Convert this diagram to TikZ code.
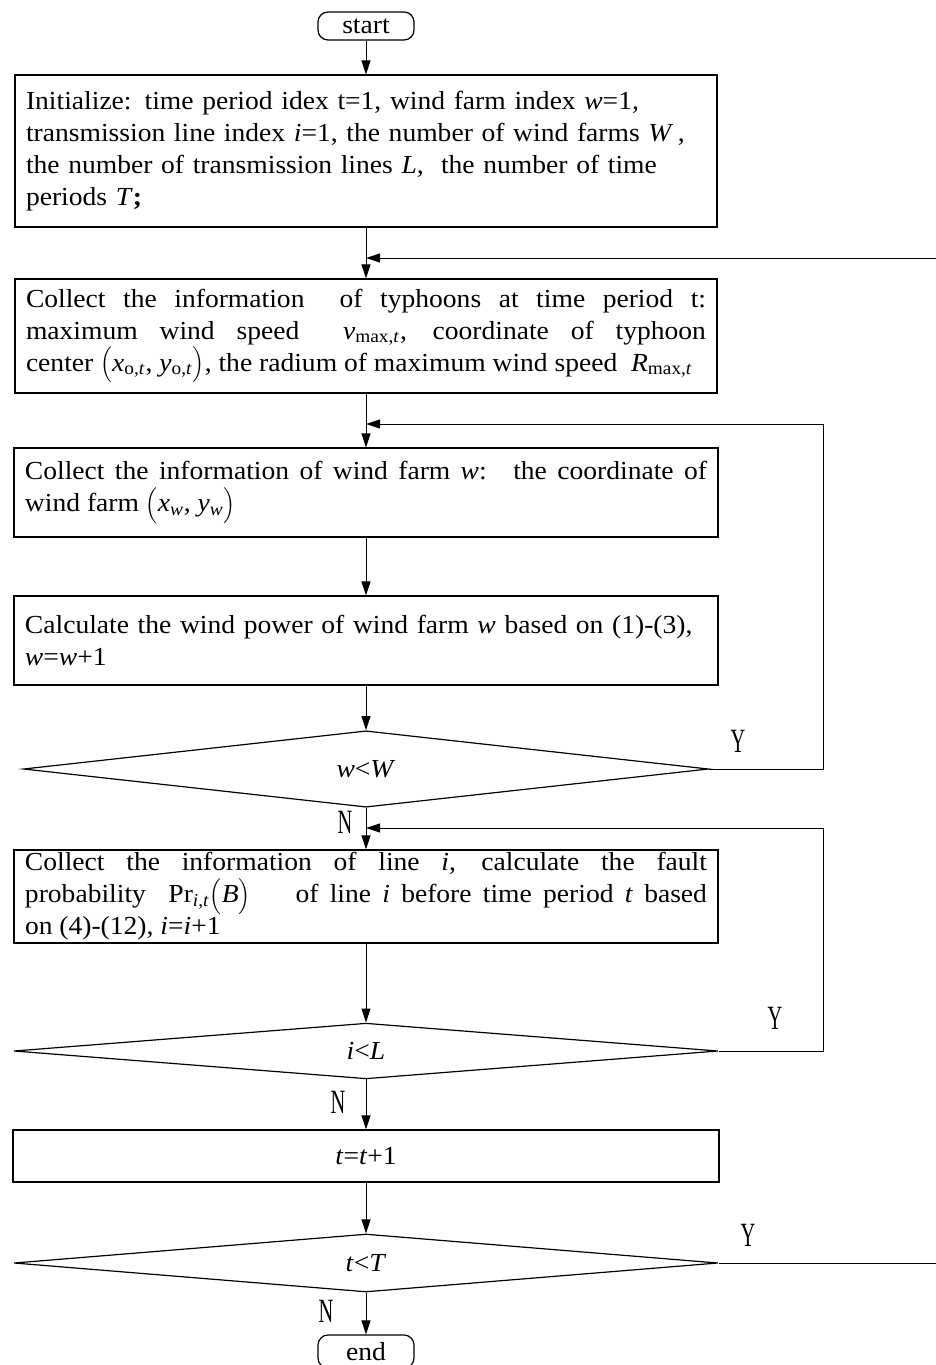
\documentclass[tikz,border=0pt]{standalone}
\usepackage{fontspec}
\setmainfont{Liberation Serif}[FakeStretch=1.06]
\newfontfamily\ynfont{Liberation Serif}[FakeStretch=0.6]
\usepackage{tikz}
\usetikzlibrary{shapes,arrows.meta,positioning,calc}

\newcommand{\itv}[1]{\textit{#1}}

\tikzset{
  box/.style={draw, rectangle, line width=0.6pt, inner xsep=5.5pt, inner ysep=0pt, align=left, font=\fontsize{13}{16}\selectfont},
  term/.style={draw, rectangle, rounded corners=5pt, line width=0.6pt, minimum width=48pt, inner sep=0pt, font=\fontsize{13}{14}\selectfont},
  cond/.style={draw, diamond, line width=0.6pt, minimum width=352pt, minimum height=27pt, inner sep=0pt, font=\fontsize{13}{14}\selectfont},
  yn/.style={font=\ynfont\fontsize{17}{17}\selectfont},
  flow/.style={line width=0.5pt}
}

\begin{document}
\begin{tikzpicture}[x=0.5pt, y=-0.5pt, on grid, >={Triangle[length=7pt,width=4.5pt]}]
  \useasboundingbox (0,0) rectangle (936,1365);

  \node[term, minimum height=14pt] (start) at (366,26) {start};
  \node[box, text width=340pt, minimum height=76pt] (init) [below=62.5pt of start]
    {Initialize: time period idex t=1, wind farm index \itv{w}=1,\\
     transmission line index \itv{i}=1, the number of wind farms \itv{W}\,,\\
     the number of transmission lines \itv{L},~ the number of time\\
     periods \itv{T}\textbf{;}};
  \node[box, text width=340pt, minimum height=57pt, align=justify] (typh) [below=92.5pt of init]
    {Collect the information~ of typhoons at time period t:\linebreak
     maximum wind speed~ \itv{v}\textsubscript{max,\itv{t}}, coordinate of typhoon\linebreak
     center $\Bigl($\itv{x}\textsubscript{o,\itv{t}}, \itv{y}\textsubscript{o,\itv{t}}$\Bigr)$, the radium of maximum wind speed~ \itv{R}\textsubscript{max,\itv{t}}};
  \node[box, text width=341pt, minimum height=44.5pt, align=justify] (wind) [below=78.25pt of typh]
    {Collect the information of wind farm \itv{w}:~ the coordinate of\linebreak
     wind farm $\Bigl($\itv{x}\textsubscript{\itv{w}}, \itv{y}\textsubscript{\itv{w}}$\Bigr)$};
  \node[box, text width=341pt, minimum height=44.5pt] (calc) [below=74pt of wind]
    {Calculate the wind power of wind farm \itv{w} based on (1)-(3),\\
     \itv{w}=\itv{w}+1};
  \node[cond, minimum width=342.5pt] (d1) [below=64.25pt of calc] {\itv{w}<\itv{W}};
  \node[box, text width=341pt, minimum height=46.5pt, align=justify] (lines) [below=63.75pt of d1]
    {Collect the information of line \itv{i}, calculate the fault\linebreak
     probability~ Pr\textsubscript{\itv{i},\itv{t}}$\Bigl($\itv{B}$\Bigr)$~~~ of line \itv{i} before time period \itv{t} based\linebreak
     on (4)-(12), \itv{i}=\itv{i}+1};
  \node[cond] (d2) [below=77.25pt of lines] {\itv{i}<\itv{L}};
  \node[box, text width=342pt, minimum height=26pt, align=center] (tinc) [below=52.5pt of d2] {\itv{t}=\itv{t}+1};
  \node[cond] (d3) [below=53.5pt of tinc] {\itv{t}<\itv{T}};
  \node[term, minimum height=16.5pt] (end) [below=44.25pt of d3] {end};

  % labels of the decisions
  \node[yn] (y1) at (738,741) {Y};
  \node[yn] (n1) at (345,822) {N};
  \node[yn] (y2) at (775,1018) {Y};
  \node[yn] (n2) at (338,1102) {N};
  \node[yn] (y3) at (748,1235) {Y};
  \node[yn] (n3) at (326,1311) {N};

  \coordinate (rw) at (823,424);
  \coordinate (rl) at (823,828);
  \coordinate (rt) at (936,258);
  \coordinate (rb) at (936,1263);

  \draw[flow,->] (start) -- (init);
  \draw[flow,->] (init) -- (typh);
  \draw[flow,->] (typh) -- (wind);
  \draw[flow,->] (wind) -- (calc);
  \draw[flow,->] (calc) -- (d1);
  \draw[flow,->] (d1) -- (lines);
  \draw[flow,->] (lines) -- (d2);
  \draw[flow,->] (d2) -- (tinc);
  \draw[flow,->] (tinc) -- (d3);
  \draw[flow,->] (d3) -- (end);

  % loops back
  \draw[flow,->] (d1.east) -| (rw) -- (rw -| d1.north);
  \draw[flow,->] (d2.east) -| (rl) -- (rl -| d2.north);
  \draw[flow,->] (rt) -- (rt -| init.south);
  \draw[flow] (d3.east) -- (rb);
\end{tikzpicture}
\end{document}
